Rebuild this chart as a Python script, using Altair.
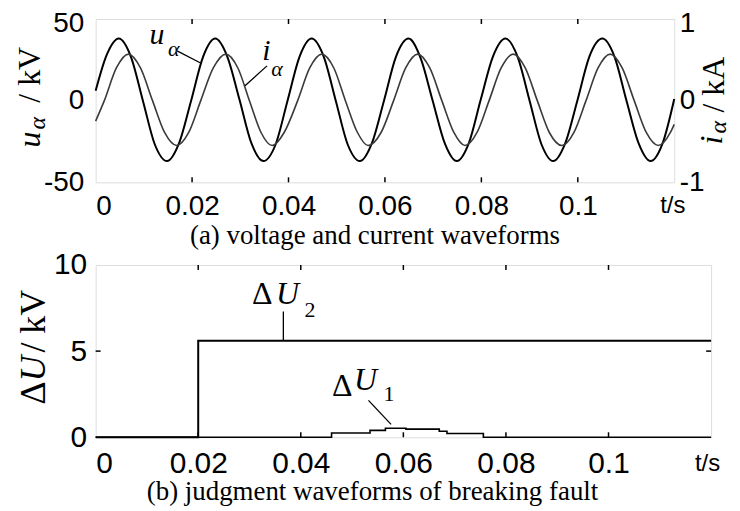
import altair as alt
import pandas as pd

# ---------------- data ----------------
# (a) voltage u_alpha [kV]
u_t = [0.0000, 0.0023, 0.0048, 0.0073, 0.0098, 0.0123, 0.0148, 0.0173, 0.0198,
       0.0223, 0.0248, 0.0273, 0.0298, 0.0323, 0.0348, 0.0373, 0.0398,
       0.0423, 0.0448, 0.0473, 0.0498, 0.0523, 0.0548, 0.0573, 0.0598,
       0.0623, 0.0649, 0.0674, 0.0699, 0.0724, 0.0749, 0.0774, 0.0799,
       0.0824, 0.0850, 0.0875, 0.0900, 0.0925, 0.0949, 0.0974, 0.0999,
       0.1024, 0.1051, 0.1076, 0.1101, 0.1126, 0.1151, 0.1176, 0.1200]
u_kv = [6, 28, 38, 27, 0, -27, -37, -26, 0,
        27, 38, 27, 1, -26, -37, -27, 0,
        27, 38, 27, 0, -27, -37, -26, 0,
        27, 38, 26, 0, -26, -37, -26, 1,
        27, 38, 27, 0, -27, -37, -26, 0,
        27, 38, 27, 0, -26, -37, -26, 1]
# (a) current i_alpha [kA]
i_t = [0.0000, 0.0018, 0.0043, 0.0068, 0.0093, 0.0118, 0.0143, 0.0168, 0.0193,
       0.0218, 0.0244, 0.0270, 0.0295, 0.0319, 0.0343, 0.0366, 0.0391,
       0.0419, 0.0444, 0.0469, 0.0494, 0.0518, 0.0543, 0.0565, 0.0592,
       0.0618, 0.0643, 0.0668, 0.0693, 0.0718, 0.0743, 0.0766, 0.0791,
       0.0816, 0.0841, 0.0866, 0.0891, 0.0916, 0.0941, 0.0967, 0.0992,
       0.1017, 0.1042, 0.1067, 0.1092, 0.1117, 0.1142, 0.1167, 0.1192, 0.1200]
i_ka = [-0.25, 0.0, 0.40, 0.57, 0.40, 0.0, -0.39, -0.55, -0.39,
        0.0, 0.40, 0.57, 0.40, 0.0, -0.39, -0.55, -0.39,
        0.0, 0.40, 0.57, 0.40, 0.0, -0.39, -0.55, -0.39,
        0.0, 0.40, 0.57, 0.40, 0.0, -0.39, -0.55, -0.39,
        0.0, 0.40, 0.57, 0.40, 0.0, -0.39, -0.55, -0.39,
        0.0, 0.40, 0.57, 0.40, 0.0, -0.39, -0.55, -0.39, -0.29]

# (b) judgment quantities [kV]
du2_t = [0.0, 0.02, 0.02, 0.12]
du2_kv = [0.0, 0.0, 5.6, 5.6]
du1_t = [0.0, 0.046, 0.0535, 0.0565, 0.0605, 0.067, 0.0685, 0.0756, 0.12]
du1_kv = [0.0, 0.25, 0.40, 0.52, 0.47, 0.35, 0.22, 0.0, 0.0]

x_ticks = [0, 0.02, 0.04, 0.06, 0.08, 0.1]
u_ticks = [-50, 0, 50]
i_ticks = [-1, 0, 1]
du_ticks = [0, 5, 10]

caption_a = "(a) voltage and current waveforms"
caption_b = "(b) judgment waveforms of breaking fault"

# ---------------- frames ----------------
df_u = pd.DataFrame({"t": u_t, "v": u_kv})
df_i = pd.DataFrame({"t": i_t, "v": i_ka})
df_d2 = pd.DataFrame({"t": du2_t, "v": du2_kv, "k": range(len(du2_t))})
df_d1 = pd.DataFrame({"t": du1_t, "v": du1_kv})
df_xt = pd.DataFrame({"t": x_ticks[1:]})
one = alt.Chart(pd.DataFrame({"a": [0]}))

TW, TH = 581, 164
BW, BH = 618, 173
LAB = "'' + datum.value"
SANS = "Liberation Sans"
SERIF = "Liberation Serif"

xs = alt.Scale(domain=[0, 0.12], nice=False, zero=False)
us = alt.Scale(domain=[-50, 50], nice=False, zero=False)
is_ = alt.Scale(domain=[-1, 1], nice=False, zero=False)
ds = alt.Scale(domain=[0, 10], nice=False, zero=False)


def xaxis(size, pad):
    return alt.Axis(values=x_ticks, labelExpr=LAB, title=None, domain=False, ticks=False,
                    grid=False, labelFont=SANS, labelFontSize=size, labelPadding=pad,
                    labelColor="black")


def yaxis(vals, size, orient, pad, top_value=None):
    kw = {}
    if top_value is not None:
        kw["labelOffset"] = {"condition": {"test": f"datum.value == {top_value}", "value": 5},
                             "value": 0}
    return alt.Axis(values=vals, labelExpr=LAB, title=None, domain=False, ticks=False,
                    grid=False, labelFont=SANS, labelFontSize=size, labelPadding=pad,
                    labelColor="black", orient=orient, **kw)


def ptext(txt, x, y, size, italic=False, angle=0, align="center", font=SERIF):
    return one.mark_text(text=txt, font=font, fontSize=size, angle=angle, align=align,
                         baseline="middle", color="black",
                         fontStyle="italic" if italic else "normal").encode(
        x=alt.value(x), y=alt.value(y))


# ---------------- panel (a) ----------------
XA = alt.X("t:Q", scale=xs, axis=xaxis(28, 10))
base_a = alt.Chart(df_xt)

volt = alt.Chart(df_u).mark_line(color="black", strokeWidth=2, interpolate="monotone").encode(
    x=XA, y=alt.Y("v:Q", scale=us, axis=yaxis(u_ticks, 28, "left", 12, 50)))
curr = alt.Chart(df_i).mark_line(color="#3a3a3a", strokeWidth=1.6, interpolate="monotone").encode(
    x=XA, y=alt.Y("v:Q", scale=is_, axis=yaxis(i_ticks, 28, "right", 5, 1)))

tick_top_a = base_a.mark_rule(color="black", strokeWidth=1.5).encode(
    x=XA, y=alt.value(0), y2=alt.value(5))
tick_bot_a = base_a.mark_rule(color="black", strokeWidth=1.5).encode(
    x=XA, y=alt.value(TH - 5), y2=alt.value(TH))

ann_a = pd.DataFrame({"t": [0.01689, 0.03554], "v": [30.5, 21.3],
                      "t2": [0.02166, 0.03098], "v2": [23.2, 9.1]})
lead_a = alt.Chart(ann_a).mark_rule(color="black", strokeWidth=1.3).encode(
    x=XA, x2="t2:Q", y=alt.Y("v:Q", scale=us, axis=None), y2="v2:Q")

lab_main_a = pd.DataFrame({"t": [0.0127, 0.0354], "v": [40.2, 30.5], "s": ["u", "i"]})
lab_sub_a = pd.DataFrame({"t": [0.0162, 0.0376], "v": [31.5, 19.5], "s": ["α", "α"]})
txt_main_a = alt.Chart(lab_main_a).mark_text(font=SERIF, fontSize=30, fontStyle="italic",
                                             color="black").encode(
    x=XA, y=alt.Y("v:Q", scale=us, axis=None), text="s:N")
txt_sub_a = alt.Chart(lab_sub_a).mark_text(font=SERIF, fontSize=22, fontStyle="italic",
                                           color="black").encode(
    x=XA, y=alt.Y("v:Q", scale=us, axis=None), text="s:N")

ts_a = alt.Chart(pd.DataFrame({"t": [0.1197]})).mark_text(
    text="t/s", font=SANS, fontSize=24, baseline="top", color="black").encode(
    x=XA, y=alt.value(TH + 12))

titles_a = [
    ptext("u", -65.5, 129, 32, italic=True, angle=270, align="left"),
    ptext("α", -58, 111, 24, italic=True, angle=270, align="left"),
    ptext("/ kV", -65.5, 84, 32, angle=270, align="left"),
    ptext("i", 619, 126, 32, italic=True, angle=270, align="left"),
    ptext("α", 626, 115, 24, italic=True, angle=270, align="left"),
    ptext("/ kA", 621, 94, 32, angle=270, align="left"),
]

panel_a = alt.layer(volt, curr, tick_top_a, tick_bot_a, lead_a, txt_main_a, txt_sub_a, ts_a,
                    *titles_a).resolve_scale(y="independent").properties(
    width=TW, height=TH,
    title=alt.TitleParams(caption_a, orient="bottom", anchor="middle", font=SERIF,
                          fontSize=27, fontWeight="normal", color="black", offset=3, dx=-10))

# ---------------- panel (b) ----------------
XB = alt.X("t:Q", scale=xs, axis=xaxis(30, 11))
YB = alt.Y("v:Q", scale=ds, axis=yaxis(du_ticks, 30, "left", 9))
base_b = alt.Chart(df_xt)

d2 = alt.Chart(df_d2).mark_line(color="black", strokeWidth=2).encode(
    x=XB, y=YB, order="k:Q")
d1 = alt.Chart(df_d1).mark_line(color="black", strokeWidth=1.6, interpolate="step-after").encode(
    x=XB, y=YB)

tick_top_b = base_b.mark_rule(color="black", strokeWidth=1.5).encode(
    x=XB, y=alt.value(0), y2=alt.value(5))
tick_bot_b = base_b.mark_rule(color="black", strokeWidth=1.5).encode(
    x=XB, y=alt.value(BH - 5), y2=alt.value(BH))
ytick_df = pd.DataFrame({"v": [5]})
tick_l_b = alt.Chart(ytick_df).mark_rule(color="black", strokeWidth=1.5).encode(
    y=YB, x=alt.value(0), x2=alt.value(5))
tick_r_b = alt.Chart(ytick_df).mark_rule(color="black", strokeWidth=1.5).encode(
    y=YB, x=alt.value(BW - 5), x2=alt.value(BW))

ann_b = pd.DataFrame({"t": [0.0366, 0.0532], "v": [7.3, 2.14],
                      "t2": [0.0366, 0.0576], "v2": [5.6, 0.75]})
lead_b = alt.Chart(ann_b).mark_rule(color="black", strokeWidth=1.3).encode(
    x=XB, x2="t2:Q", y=YB, y2="v2:Q")

delta_b = pd.DataFrame({"t": [0.0325, 0.0481], "v": [8.3, 2.95], "s": ["Δ", "Δ"]})
u_b = pd.DataFrame({"t": [0.0374, 0.0526], "v": [8.3, 3.3], "s": ["U", "U"]})
sub_b = pd.DataFrame({"t": [0.0418, 0.0572], "v": [7.37, 2.5], "s": ["2", "1"]})
txt_delta = alt.Chart(delta_b).mark_text(font=SERIF, fontSize=32, color="black").encode(
    x=XB, y=YB, text="s:N")
txt_u = alt.Chart(u_b).mark_text(font=SERIF, fontSize=32, fontStyle="italic",
                                 color="black").encode(x=XB, y=YB, text="s:N")
txt_sub = alt.Chart(sub_b).mark_text(font=SERIF, fontSize=22, color="black").encode(
    x=XB, y=YB, text="s:N")

ts_b = alt.Chart(pd.DataFrame({"t": [0.1193]})).mark_text(
    text="t/s", font=SANS, fontSize=24, baseline="top", color="black").encode(
    x=XB, y=alt.value(BH + 15))

titles_b = [
    ptext("Δ", -61.5, 140, 36, angle=270, align="left"),
    ptext("U", -61.5, 117, 36, italic=True, angle=270, align="left"),
    ptext("/ kV", -61.5, 88, 36, angle=270, align="left"),
]

panel_b = alt.layer(d2, d1, tick_top_b, tick_bot_b, tick_l_b, tick_r_b, lead_b,
                    txt_delta, txt_u, txt_sub, ts_b, *titles_b).properties(
    width=BW, height=BH,
    title=alt.TitleParams(caption_b, orient="bottom", anchor="middle", font=SERIF,
                          fontSize=27, fontWeight="normal", color="black", offset=1, dx=-31))

chart = alt.vconcat(panel_a, panel_b, spacing=-1).properties(
    padding={"left": 6, "top": 0, "right": 0, "bottom": 0}
).configure_view(stroke="black", strokeWidth=2).configure(background="white")

chart.save("out.html", embed_options={"renderer": "svg", "actions": False})
